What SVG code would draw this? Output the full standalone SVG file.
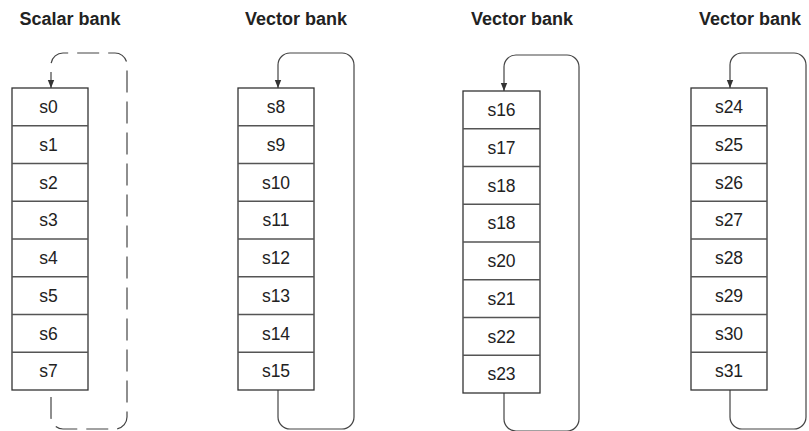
<svg xmlns="http://www.w3.org/2000/svg" width="809" height="431" viewBox="0 0 809 431">
<style>
.title{font-family:"Liberation Sans",Arial,sans-serif;font-weight:bold;font-size:18px;fill:#222;text-anchor:middle}
.lbl{font-family:"Liberation Sans",Arial,sans-serif;font-size:17.5px;fill:#222;text-anchor:middle}
.box{fill:#fff;stroke:#333;stroke-width:1.3}
.div{stroke:#555;stroke-width:1.3}
.loop{fill:none;stroke:#444;stroke-width:1.2}
.dash{stroke-dasharray:22 9}
</style>
<defs>
<marker id="ah2" viewBox="0 0 10 10" refX="10" refY="5" markerWidth="8" markerHeight="8" markerUnits="userSpaceOnUse" orient="auto">
<path d="M0,1 L10,5 L0,9 Z" fill="#333"/>
</marker>
</defs>
<text class="title" x="70" y="25">Scalar bank</text>
<text class="title" x="296" y="25">Vector bank</text>
<text class="title" x="522" y="25">Vector bank</text>
<text class="title" x="750" y="25">Vector bank</text>
<g id="connectors">
<path class="loop dash" d="M51,397 L51,417 A12,12 0 0 0 63,429 L115,429 A12,12 0 0 0 127,417 L127,65 A12,12 0 0 0 115,53 L63,53 A12,12 0 0 0 51,65 L51,88" marker-end="url(#ah2)"/>
<path class="loop" d="M278,390 L278,417 A12,12 0 0 0 290,429 L342,429 A12,12 0 0 0 354,417 L354,65 A12,12 0 0 0 342,53 L290,53 A12,12 0 0 0 278,65 L278,88" marker-end="url(#ah2)"/>
<path class="loop" d="M504,393 L504,419 A12,12 0 0 0 516,431 L567,431 A12,12 0 0 0 579,419 L579,67 A12,12 0 0 0 567,55 L516,55 A12,12 0 0 0 504,67 L504,91" marker-end="url(#ah2)"/>
<path class="loop" d="M730,390 L730,417 A12,12 0 0 0 742,429 L794,429 A12,12 0 0 0 806,417 L806,65 A12,12 0 0 0 794,53 L742,53 A12,12 0 0 0 730,65 L730,88" marker-end="url(#ah2)"/>
</g>
<g id="bank0">
<rect class="box" x="12" y="88" width="76" height="302"/>
<path class="div" d="M12,125.75H88M12,163.5H88M12,201.25H88M12,239H88M12,276.75H88M12,314.5H88M12,352.25H88"/>
<text class="lbl" x="48.5" y="113">s0</text>
<text class="lbl" x="48.5" y="151">s1</text>
<text class="lbl" x="48.5" y="189">s2</text>
<text class="lbl" x="48.5" y="226">s3</text>
<text class="lbl" x="48.5" y="264">s4</text>
<text class="lbl" x="48.5" y="302">s5</text>
<text class="lbl" x="48.5" y="340">s6</text>
<text class="lbl" x="48.5" y="377">s7</text>
</g>
<g id="bank1">
<rect class="box" x="238" y="88" width="76" height="302"/>
<path class="div" d="M238,125.75H314M238,163.5H314M238,201.25H314M238,239H314M238,276.75H314M238,314.5H314M238,352.25H314"/>
<text class="lbl" x="276" y="113">s8</text>
<text class="lbl" x="276" y="151">s9</text>
<text class="lbl" x="276" y="189">s10</text>
<text class="lbl" x="276" y="226">s11</text>
<text class="lbl" x="276" y="264">s12</text>
<text class="lbl" x="276" y="302">s13</text>
<text class="lbl" x="276" y="340">s14</text>
<text class="lbl" x="276" y="377">s15</text>
</g>
<g id="bank2">
<rect class="box" x="463" y="91" width="77" height="302"/>
<path class="div" d="M463,128.75H540M463,166.5H540M463,204.25H540M463,242H540M463,279.75H540M463,317.5H540M463,355.25H540"/>
<text class="lbl" x="501.5" y="116">s16</text>
<text class="lbl" x="501.5" y="154">s17</text>
<text class="lbl" x="501.5" y="192">s18</text>
<text class="lbl" x="501.5" y="229">s18</text>
<text class="lbl" x="501.5" y="267">s20</text>
<text class="lbl" x="501.5" y="305">s21</text>
<text class="lbl" x="501.5" y="343">s22</text>
<text class="lbl" x="501.5" y="380">s23</text>
</g>
<g id="bank3">
<rect class="box" x="691" y="88" width="76" height="302"/>
<path class="div" d="M691,125.75H767M691,163.5H767M691,201.25H767M691,239H767M691,276.75H767M691,314.5H767M691,352.25H767"/>
<text class="lbl" x="729" y="113">s24</text>
<text class="lbl" x="729" y="151">s25</text>
<text class="lbl" x="729" y="189">s26</text>
<text class="lbl" x="729" y="226">s27</text>
<text class="lbl" x="729" y="264">s28</text>
<text class="lbl" x="729" y="302">s29</text>
<text class="lbl" x="729" y="340">s30</text>
<text class="lbl" x="729" y="377">s31</text>
</g>
</svg>
